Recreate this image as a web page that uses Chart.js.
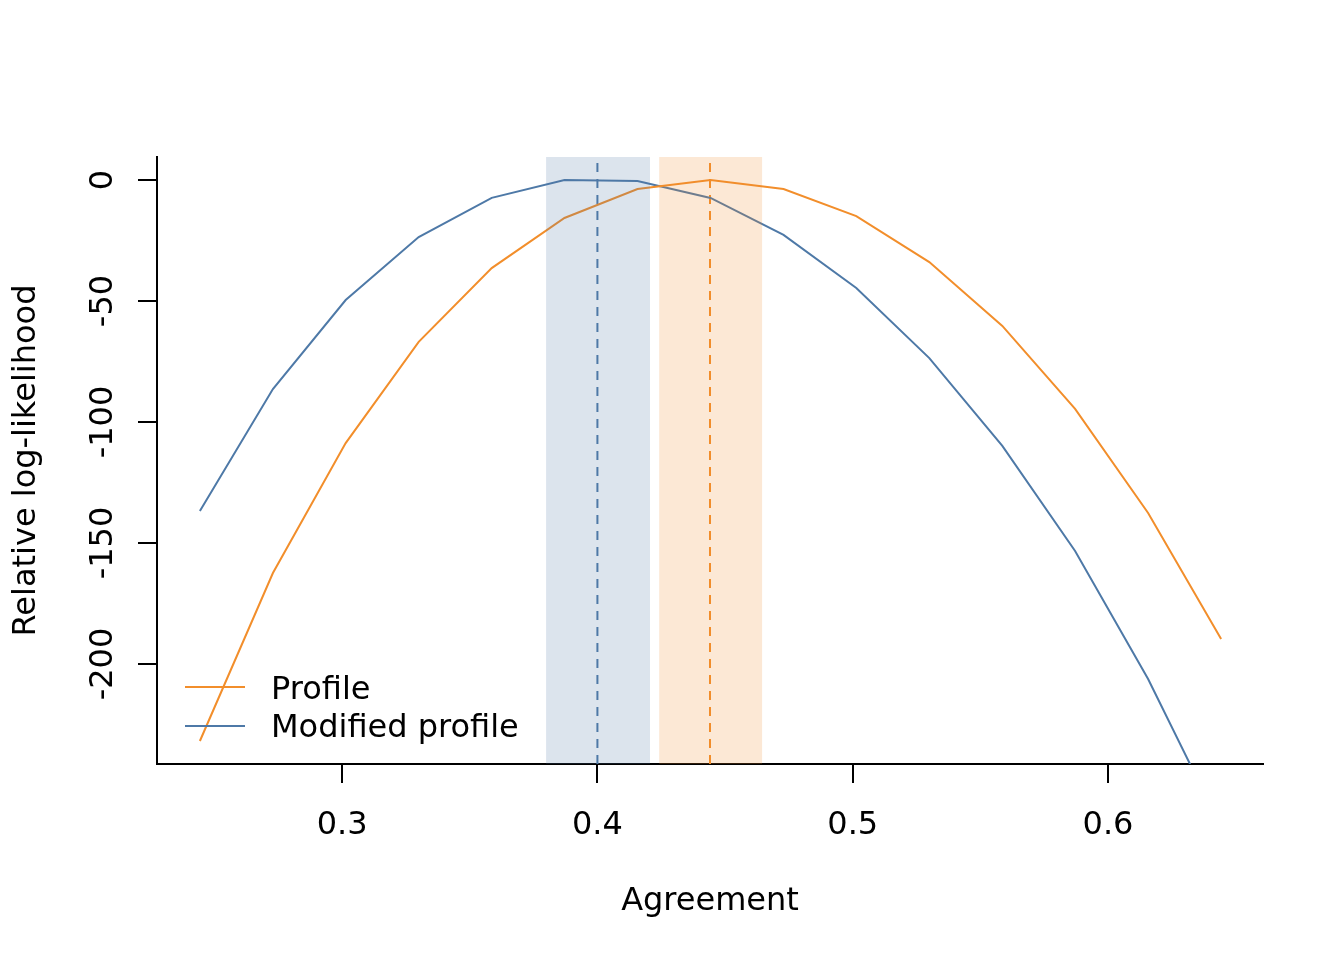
<!DOCTYPE html>
<html>
<head>
<meta charset="utf-8">
<script src="https://cdn.jsdelivr.net/npm/chart.js@4/dist/chart.umd.min.js"></script>
<style>
  html, body { margin: 0; padding: 0; background: #fff; }
</style>
</head>
<body>
<canvas id="chartPerfil" width="1344" height="960"></canvas>
<script>
  // grid of agreement values and relative log-likelihoods
  const agreement = [0.2443, 0.2729, 0.3014, 0.3300, 0.3586, 0.3871, 0.4157, 0.4443,
                     0.4729, 0.5014, 0.5300, 0.5586, 0.5871, 0.6157, 0.6443];
  const profile   = [-231.8, -162.4, -108.7, -66.9, -36.4, -15.7, -3.7, 0,
                     -3.7, -14.9, -33.9, -60.3, -94.6, -137.6, -189.7];
  const modified  = [-136.8, -86.4, -49.6, -23.6, -7.4, 0, -0.4, -7.4,
                     -22.7, -44.6, -73.6, -109.9, -153.3, -206.2, -267.4];

  // maxima and intervals
  const profileMle   = 0.4441;
  const modifiedMle  = 0.4000;
  const profileCI    = [0.4242, 0.4645];
  const modifiedCI   = [0.3799, 0.4206];

  const xRange = [0.2275, 0.6607];
  const yRange = [-241.3, 9.5];
  const xTicks = [0.3, 0.4, 0.5, 0.6];
  const yTicks = [0, -50, -100, -150, -200];

  const orange  = '#F28E2B';
  const blue    = '#4E79A7';
  const orangeA = 'rgba(242,142,43,0.2)';
  const blueA   = 'rgba(78,121,167,0.2)';
  const fam     = '"DejaVu Sans", sans-serif';
  const fs      = 32;

  const toPts = (xs, ys) => xs.map((x, i) => ({ x: x, y: ys[i] }));
  const vline = x => [{ x: x, y: yRange[0] }, { x: x, y: yRange[1] }];

  // shaded intervals, drawn over the curves like R's rect() with alpha
  const bandas = {
    id: 'bandas',
    afterDatasetsDraw(chart) {
      const { ctx, chartArea: a, scales: { x } } = chart;
      ctx.save();
      [[modifiedCI, blueA], [profileCI, orangeA]].forEach(([ci, col]) => {
        const l = x.getPixelForValue(ci[0]);
        const r = x.getPixelForValue(ci[1]);
        ctx.fillStyle = col;
        ctx.fillRect(l, a.top, r - l, a.bottom - a.top);
      });
      ctx.restore();
    }
  };

  // vertical tick labels on the y axis (R las=0 style)
  const etiquetasY = {
    id: 'etiquetasY',
    afterDraw(chart) {
      const { ctx, scales: { y } } = chart;
      ctx.save();
      ctx.font = fs + 'px ' + fam;
      ctx.fillStyle = '#000';
      ctx.textAlign = 'center';
      ctx.textBaseline = 'alphabetic';
      yTicks.forEach(v => {
        ctx.save();
        ctx.translate(112, y.getPixelForValue(v));
        ctx.rotate(-Math.PI / 2);
        ctx.fillText(String(v), 0, 0);
        ctx.restore();
      });
      ctx.restore();
    }
  };

  // legend in the lower left corner, no box
  const leyenda = {
    id: 'leyenda',
    afterDraw(chart) {
      const { ctx } = chart;
      const items = [['Profile', orange, 687, 699], ['Modified profile', blue, 726, 737]];
      ctx.save();
      ctx.font = fs + 'px ' + fam;
      ctx.textBaseline = 'alphabetic';
      ctx.textAlign = 'left';
      items.forEach(([txt, col, ly, ty]) => {
        ctx.strokeStyle = col;
        ctx.lineWidth = 2;
        ctx.beginPath();
        ctx.moveTo(185, ly);
        ctx.lineTo(245, ly);
        ctx.stroke();
        ctx.fillStyle = '#000';
        ctx.fillText(txt, 271, ty);
      });
      ctx.restore();
    }
  };

  const linea = (label, data, color, dash) => ({
    label: label,
    data: data,
    showLine: true,
    borderColor: color,
    backgroundColor: color,
    borderWidth: 2,
    borderDash: dash || [],
    pointRadius: 0,
    tension: 0
  });

  new Chart(document.getElementById('chartPerfil'), {
    type: 'scatter',
    data: {
      datasets: [
        linea('Profile', toPts(agreement, profile), orange),
        linea('Modified profile', toPts(agreement, modified), blue),
        linea('mle profile', vline(profileMle), orange, [9, 7]),
        linea('mle modified', vline(modifiedMle), blue, [9, 7])
      ]
    },
    plugins: [bandas, etiquetasY, leyenda],
    options: {
      responsive: false,
      animation: false,
      devicePixelRatio: 1,
      layout: { padding: { top: 157, right: 81, left: 0, bottom: 0 } },
      plugins: { legend: { display: false }, tooltip: { enabled: false } },
      scales: {
        x: {
          type: 'linear',
          min: xRange[0],
          max: xRange[1],
          afterBuildTicks: s => { s.ticks = xTicks.map(v => ({ value: v })); },
          afterFit: s => { s.height = 196; },
          border: { display: true, color: '#000', width: 2 },
          grid: { drawOnChartArea: false, color: '#000', lineWidth: 2, tickLength: 19 },
          ticks: {
            color: '#000',
            font: { family: fam, size: fs },
            padding: 23,
            maxRotation: 0,
            callback: v => v.toFixed(1)
          },
          title: {
            display: true,
            text: 'Agreement',
            color: '#000',
            font: { family: fam, size: fs },
            padding: { top: 0, bottom: 39 }
          }
        },
        y: {
          type: 'linear',
          min: yRange[0],
          max: yRange[1],
          afterBuildTicks: s => { s.ticks = yTicks.map(v => ({ value: v })); },
          afterFit: s => { s.width = 157; },
          border: { display: true, color: '#000', width: 2 },
          grid: { drawOnChartArea: false, color: '#000', lineWidth: 2, tickLength: 19 },
          ticks: { color: 'rgba(0,0,0,0)', font: { family: fam, size: fs } },
          title: {
            display: true,
            text: 'Relative log-likelihood',
            color: '#000',
            font: { family: fam, size: fs },
            padding: { top: 7, bottom: 0 }
          }
        }
      }
    }
  });
</script>
</body>
</html>
